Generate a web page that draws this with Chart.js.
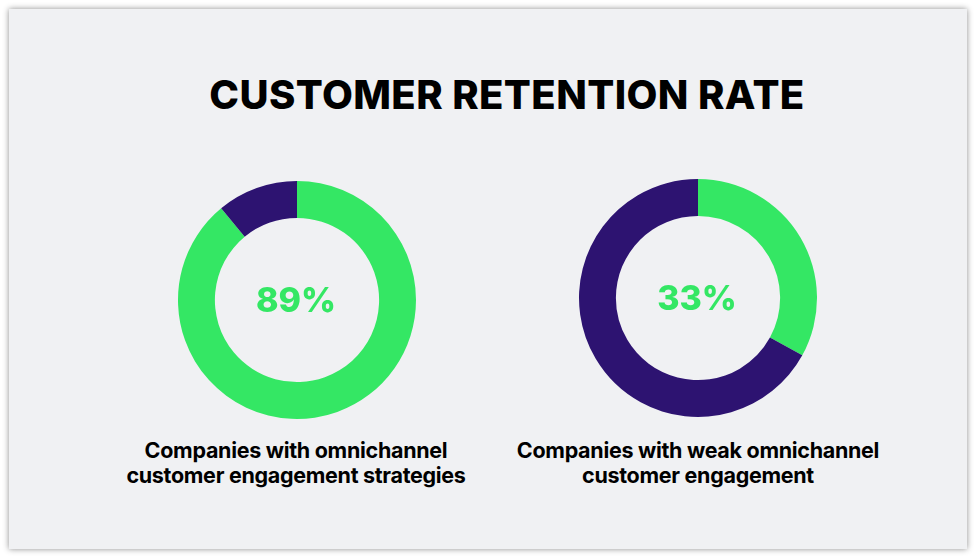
<!DOCTYPE html>
<html>
<head>
<meta charset="utf-8">
<script src="https://cdn.jsdelivr.net/npm/chart.js@4.4.0/dist/chart.umd.min.js"></script>
<style>
    html, body { margin: 0; padding: 0; background: #ffffff; }
    body { width: 975px; height: 556px; position: relative; overflow: hidden; font-family: 'Inter', 'Open Sans', sans-serif; }
    .card {
        position: absolute; left: 9px; top: 9px; width: 958px; height: 540px;
        background: #f0f1f3;
        box-shadow: 0 0 6px rgba(0, 0, 0, 0.45);
    }
    .title {
        position: absolute; left: 0; top: 70px; width: 1014px; text-align: center;
        font-size: 40px; font-weight: 800; color: #000; letter-spacing: 0.4px;
    }
    .chart-box { position: absolute; width: 260px; height: 260px; }
    .caption {
        position: absolute; width: 440px; text-align: center;
        font-size: 21.5px; font-weight: 700; color: #000; line-height: 25px; letter-spacing: -0.3px;
    }
</style>
</head>
<body>
<div class="card"></div>
<div class="title">CUSTOMER RETENTION RATE</div>
<div class="chart-box" style="left:167px; top:170px;"><canvas id="chart-left" width="260" height="260"></canvas></div>
<div class="chart-box" style="left:568px; top:168px;"><canvas id="chart-right" width="260" height="260"></canvas></div>
<div class="caption" id="caption-left" style="left:76px; top:438px;"></div>
<div class="caption" id="caption-right" style="left:478px; top:438px;"></div>

<script>
/* Customer retention donuts */

const segments = ['Retained', 'Not retained'];
const omnichannelValues = [89, 11];
const weakValues = [33, 67];
const centerLabels = ['89%', '33%'];
const captions = [
    ['Companies with omnichannel', 'customer engagement strategies'],
    ['Companies with weak omnichannel', 'customer engagement']
];

const GREEN = '#34e764';
const PURPLE = '#2d1371';

// --- Helpers ---

const centerText = {
    id: 'centerText',
    afterDraw(chart, args, opts) {
        const meta = chart.getDatasetMeta(0);
        if (!meta.data.length) return;
        const arc = meta.data[0];
        const ctx = chart.ctx;
        ctx.save();
        ctx.fillStyle = GREEN;
        ctx.font = "800 34px 'Inter', sans-serif";
        ctx.textAlign = 'center';
        ctx.textBaseline = 'middle';
        ctx.fillText(opts.text, arc.x - 1, arc.y + 2);
        ctx.restore();
    }
};

function makeDonut(id, values, label) {
    const ctx = document.getElementById(id).getContext('2d');
    return new Chart(ctx, {
        type: 'doughnut',
        data: {
            labels: segments,
            datasets: [{
                data: values,
                backgroundColor: [GREEN, PURPLE],
                borderWidth: 0,
            }]
        },
        options: {
            responsive: false,
            animation: false,
            cutout: '69%',
            layout: { padding: 11 },
            plugins: {
                legend: { display: false },
                tooltip: { enabled: false },
                centerText: { text: label },
            }
        },
        plugins: [centerText]
    });
}

// --- Init ---

makeDonut('chart-left', omnichannelValues, centerLabels[0]);
makeDonut('chart-right', weakValues, centerLabels[1]);
document.getElementById('caption-left').innerHTML = captions[0].join('<br>');
document.getElementById('caption-right').innerHTML = captions[1].join('<br>');
</script>
</body>
</html>
